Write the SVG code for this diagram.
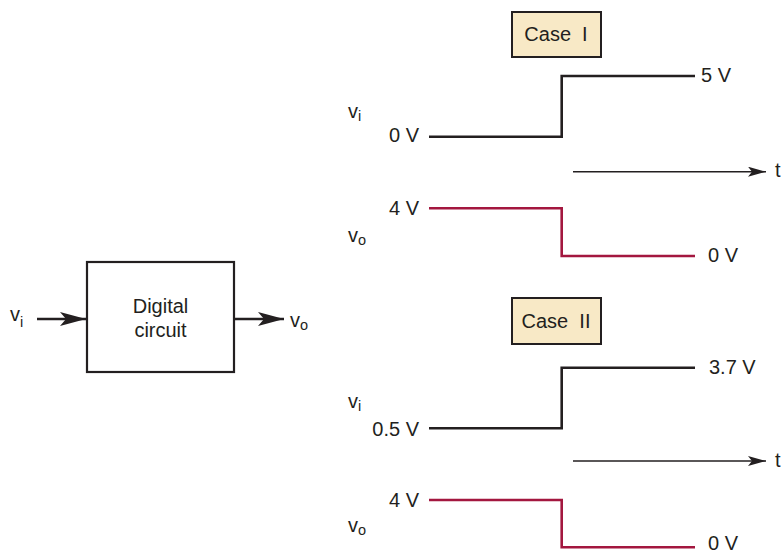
<svg xmlns="http://www.w3.org/2000/svg" width="781" height="554" viewBox="0 0 781 554">
<style>
text{font-family:"Liberation Sans",Arial,sans-serif;font-size:20px;fill:#231f20}
.sub{font-size:14.5px}
.blk{fill:none;stroke:#231f20;stroke-width:2.6}
.red{fill:none;stroke:#a3173f;stroke-width:2.6}
.axis{fill:none;stroke:#231f20;stroke-width:1.4}
.case{fill:#f8e9c6;stroke:#231f20;stroke-width:2}
.box{fill:#fff;stroke:#231f20;stroke-width:2.2}
</style>
<defs>
<marker id="ah" markerWidth="18" markerHeight="10" refX="18" refY="5" orient="auto" markerUnits="userSpaceOnUse"><path d="M0,0 L18,5 L0,10 L4,5 Z" fill="#231f20"/></marker>
<marker id="bh" markerWidth="26" markerHeight="14" refX="26" refY="7" orient="auto" markerUnits="userSpaceOnUse"><path d="M0,0 L26,7 L0,14 L6,7 Z" fill="#231f20"/></marker>
</defs>
<g id="circuit">
<rect class="box" x="87" y="262" width="147" height="110"/>
<text x="160.5" y="313" text-anchor="middle">Digital</text>
<text x="160.5" y="337" text-anchor="middle">circuit</text>
</g>
<g id="in-label"><text x="10" y="321">v<tspan class="sub" dy="6">i</tspan></text></g>
<g id="out-label"><text x="290" y="327">v<tspan class="sub" dy="3">o</tspan></text></g>
<g id="case1">
<rect class="case" x="512" y="12" width="89" height="45"/>
<text x="556" y="41" text-anchor="middle">Case&#160; I</text>
</g>
<g id="case2">
<rect class="case" x="512" y="298" width="89" height="46"/>
<text x="556" y="328" text-anchor="middle">Case&#160; II</text>
</g>
<g id="connectors">
<line class="blk" x1="37" y1="319" x2="86" y2="319" stroke-width="2.4" marker-end="url(#bh)"/>
<line class="blk" x1="234" y1="319" x2="284" y2="319" stroke-width="2.4" marker-end="url(#bh)"/>
<polyline class="blk" points="429,136.7 561.7,136.7 561.7,76 695,76"/>
<polyline class="red" points="429,208.3 561.7,208.3 561.7,256 695,256"/>
<line class="axis" x1="573" y1="171.7" x2="766" y2="171.7" marker-end="url(#ah)"/>
<polyline class="blk" points="429,428.3 561.7,428.3 561.7,367.7 695,367.7"/>
<polyline class="red" points="429,500 561.7,500 561.7,547.3 695,547.3"/>
<line class="axis" x1="573" y1="461" x2="766" y2="461" marker-end="url(#ah)"/>
</g>
<g id="labels1">
<text x="348" y="118">v<tspan class="sub" dy="3">i</tspan></text>
<text x="419" y="142" text-anchor="end">0 V</text>
<text x="701" y="82">5 V</text>
<text x="775" y="177">t</text>
<text x="419" y="215" text-anchor="end">4 V</text>
<text x="348" y="242">v<tspan class="sub" dy="3">o</tspan></text>
<text x="708" y="262">0 V</text>
</g>
<g id="labels2">
<text x="709" y="374">3.7 V</text>
<text x="348" y="408">v<tspan class="sub" dy="3">i</tspan></text>
<text x="419" y="436" text-anchor="end">0.5 V</text>
<text x="775" y="467">t</text>
<text x="419" y="507" text-anchor="end">4 V</text>
<text x="348" y="532">v<tspan class="sub" dy="3">o</tspan></text>
<text x="708" y="550">0 V</text>
</g>
</svg>
